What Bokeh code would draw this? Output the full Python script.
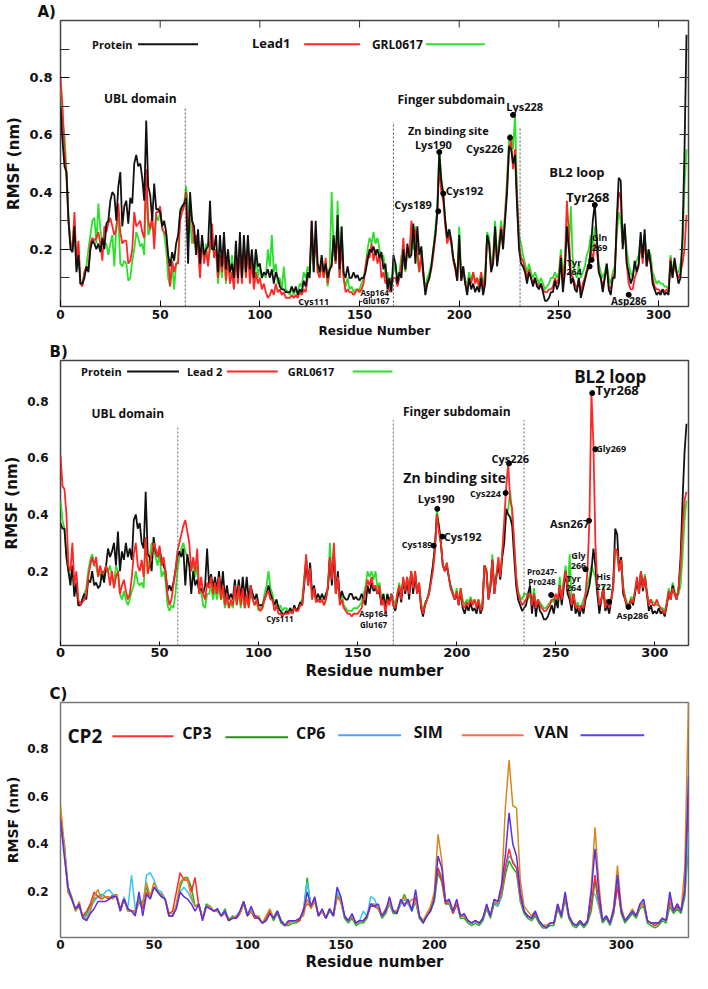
import numpy as np
from bokeh.plotting import figure
from bokeh.models import Label, FixedTicker, LinearAxis, Range1d
from bokeh.layouts import column
from bokeh.embed import file_html
from bokeh.resources import INLINE

TICK_FONT = "DejaVu Sans"
FONT = "Open Sans"

# ---------------- Panel A data (RMSF, nm; residue index = position) ----------------
a_protein = [
    0.70, 0.58, 0.49, 0.47, 0.30, 0.20, 0.19, 0.28, 0.12, 0.18,
    0.08, 0.08, 0.10, 0.14, 0.12, 0.20, 0.23, 0.22, 0.20, 0.22,
    0.19, 0.24, 0.20, 0.29, 0.30, 0.37, 0.40, 0.39, 0.30, 0.42,
    0.47, 0.28, 0.35, 0.37, 0.29, 0.38, 0.36, 0.50, 0.53, 0.49,
    0.50, 0.45, 0.37, 0.65, 0.42, 0.39, 0.30, 0.43, 0.34, 0.34,
    0.33, 0.28, 0.30, 0.26, 0.18, 0.14, 0.19, 0.16, 0.22, 0.25,
    0.33, 0.35, 0.36, 0.38, 0.15, 0.40, 0.30, 0.28, 0.18, 0.27,
    0.15, 0.25, 0.18, 0.20, 0.21, 0.37, 0.20, 0.20, 0.25, 0.12,
    0.25, 0.14, 0.26, 0.13, 0.20, 0.12, 0.15, 0.10, 0.23, 0.10,
    0.26, 0.10, 0.25, 0.12, 0.25, 0.13, 0.20, 0.10, 0.20, 0.14,
    0.15, 0.10, 0.12, 0.11, 0.13, 0.10, 0.13, 0.08, 0.12, 0.10,
    0.07, 0.06, 0.06, 0.05, 0.05, 0.05, 0.07, 0.05, 0.07, 0.04,
    0.06, 0.05, 0.09, 0.07, 0.12, 0.10, 0.30, 0.12, 0.30, 0.15,
    0.12, 0.18, 0.12, 0.15, 0.10, 0.13, 0.14, 0.25, 0.16, 0.32,
    0.13, 0.28, 0.12, 0.10, 0.14, 0.10, 0.10, 0.12, 0.10, 0.11,
    0.09, 0.10, 0.10, 0.12, 0.16, 0.20, 0.19, 0.21, 0.18, 0.20,
    0.17, 0.19, 0.13, 0.15, 0.06, 0.10, 0.05, 0.18, 0.15, 0.08,
    0.12, 0.10, 0.20, 0.13, 0.22, 0.17, 0.18, 0.29, 0.15, 0.28,
    0.18, 0.21, 0.12, 0.04, 0.08, 0.10, 0.14, 0.20, 0.25, 0.33,
    0.54, 0.44, 0.39, 0.30, 0.24, 0.27, 0.23, 0.17, 0.14, 0.09,
    0.25, 0.09, 0.14, 0.08, 0.04, 0.10, 0.06, 0.08, 0.05, 0.07,
    0.05, 0.10, 0.04, 0.08, 0.25, 0.22, 0.12, 0.15, 0.28, 0.14,
    0.20, 0.27, 0.20, 0.30, 0.40, 0.56, 0.55, 0.50, 0.53, 0.35,
    0.20, 0.15, 0.14, 0.12, 0.08, 0.12, 0.10, 0.07, 0.10, 0.07,
    0.06, 0.08, 0.05, 0.02, 0.02, 0.03, 0.05, 0.05, 0.09, 0.06,
    0.08, 0.17, 0.05, 0.12, 0.28, 0.20, 0.08, 0.10, 0.06, 0.05,
    0.10, 0.03, 0.06, 0.09, 0.12, 0.14, 0.20, 0.30, 0.36, 0.24,
    0.12, 0.10, 0.05, 0.10, 0.15, 0.06, 0.04, 0.10, 0.10, 0.30,
    0.45, 0.44, 0.20, 0.29, 0.15, 0.12, 0.08, 0.10, 0.16, 0.12,
    0.15, 0.26, 0.17, 0.27, 0.14, 0.20, 0.15, 0.08, 0.06, 0.04,
    0.05, 0.04, 0.06, 0.04, 0.05, 0.04, 0.16, 0.10, 0.17, 0.12,
    0.08, 0.10, 0.25, 0.55, 0.95,
]
a_lead1 = [
    0.80, 0.70, 0.55, 0.45, 0.30, 0.22, 0.20, 0.33, 0.15, 0.23,
    0.08, 0.07, 0.12, 0.14, 0.13, 0.22, 0.24, 0.23, 0.24, 0.26,
    0.22, 0.16, 0.28, 0.26, 0.29, 0.31, 0.28, 0.25, 0.27, 0.36,
    0.26, 0.22, 0.23, 0.23, 0.15, 0.16, 0.20, 0.33, 0.28, 0.29,
    0.30, 0.26, 0.24, 0.48, 0.30, 0.27, 0.32, 0.20, 0.33, 0.33,
    0.35, 0.27, 0.26, 0.25, 0.17, 0.07, 0.16, 0.12, 0.15, 0.15,
    0.30, 0.33, 0.35, 0.40, 0.25, 0.35, 0.30, 0.22, 0.25, 0.20,
    0.10, 0.24, 0.15, 0.20, 0.14, 0.22, 0.29, 0.17, 0.20, 0.10,
    0.18, 0.12, 0.20, 0.09, 0.17, 0.08, 0.12, 0.06, 0.18, 0.08,
    0.20, 0.08, 0.22, 0.10, 0.20, 0.08, 0.16, 0.06, 0.12, 0.08,
    0.10, 0.06, 0.08, 0.05, 0.03, 0.04, 0.06, 0.04, 0.08, 0.05,
    0.06, 0.04, 0.05, 0.03, 0.03, 0.03, 0.04, 0.03, 0.04, 0.03,
    0.05, 0.04, 0.06, 0.05, 0.10, 0.12, 0.30, 0.15, 0.24, 0.12,
    0.10, 0.15, 0.10, 0.17, 0.08, 0.13, 0.15, 0.24, 0.15, 0.27,
    0.10, 0.22, 0.10, 0.05, 0.06, 0.05, 0.05, 0.04, 0.05, 0.06,
    0.05, 0.06, 0.08, 0.14, 0.18, 0.17, 0.22, 0.16, 0.20, 0.15,
    0.18, 0.10, 0.12, 0.08, 0.10, 0.05, 0.08, 0.10, 0.10, 0.07,
    0.10, 0.15, 0.24, 0.13, 0.20, 0.18, 0.30, 0.22, 0.27, 0.20,
    0.12, 0.18, 0.10, 0.06, 0.08, 0.10, 0.13, 0.18, 0.24, 0.32,
    0.50, 0.40, 0.37, 0.28, 0.22, 0.25, 0.22, 0.16, 0.13, 0.09,
    0.22, 0.09, 0.13, 0.08, 0.06, 0.10, 0.08, 0.12, 0.08, 0.10,
    0.06, 0.12, 0.06, 0.10, 0.24, 0.22, 0.13, 0.16, 0.27, 0.15,
    0.21, 0.28, 0.22, 0.32, 0.42, 0.55, 0.58, 0.48, 0.55, 0.38,
    0.22, 0.17, 0.16, 0.13, 0.10, 0.13, 0.10, 0.08, 0.10, 0.08,
    0.07, 0.08, 0.06, 0.05, 0.05, 0.06, 0.06, 0.07, 0.10, 0.08,
    0.10, 0.18, 0.08, 0.15, 0.37, 0.25, 0.12, 0.10, 0.08, 0.06,
    0.10, 0.05, 0.08, 0.10, 0.13, 0.15, 0.20, 0.16, 0.22, 0.20,
    0.12, 0.10, 0.07, 0.10, 0.14, 0.07, 0.06, 0.10, 0.12, 0.28,
    0.40, 0.38, 0.22, 0.27, 0.15, 0.08, 0.06, 0.06, 0.10, 0.12,
    0.14, 0.23, 0.15, 0.24, 0.14, 0.18, 0.15, 0.10, 0.07, 0.06,
    0.06, 0.05, 0.06, 0.05, 0.06, 0.05, 0.17, 0.10, 0.15, 0.12,
    0.10, 0.12, 0.15, 0.20, 0.32,
]
a_grl = [
    0.77, 0.65, 0.60, 0.48, 0.32, 0.22, 0.22, 0.30, 0.14, 0.20,
    0.08, 0.08, 0.12, 0.14, 0.20, 0.25, 0.30, 0.31, 0.22, 0.36,
    0.27, 0.22, 0.22, 0.22, 0.18, 0.22, 0.25, 0.14, 0.28, 0.32,
    0.15, 0.14, 0.16, 0.15, 0.09, 0.10, 0.16, 0.20, 0.26, 0.24,
    0.21, 0.22, 0.18, 0.45, 0.25, 0.27, 0.30, 0.24, 0.32, 0.30,
    0.33, 0.28, 0.25, 0.20, 0.10, 0.07, 0.15, 0.06, 0.15, 0.16,
    0.34, 0.35, 0.36, 0.42, 0.35, 0.30, 0.22, 0.25, 0.20, 0.22,
    0.15, 0.22, 0.17, 0.22, 0.15, 0.20, 0.25, 0.18, 0.20, 0.08,
    0.17, 0.10, 0.20, 0.08, 0.20, 0.10, 0.18, 0.10, 0.15, 0.12,
    0.22, 0.10, 0.18, 0.12, 0.20, 0.12, 0.15, 0.10, 0.20, 0.10,
    0.14, 0.10, 0.12, 0.10, 0.20, 0.14, 0.25, 0.12, 0.15, 0.08,
    0.10, 0.06, 0.14, 0.06, 0.05, 0.04, 0.07, 0.04, 0.06, 0.05,
    0.08, 0.07, 0.12, 0.10, 0.14, 0.12, 0.25, 0.12, 0.25, 0.12,
    0.12, 0.17, 0.10, 0.14, 0.07, 0.13, 0.40, 0.20, 0.15, 0.37,
    0.10, 0.28, 0.10, 0.07, 0.10, 0.06, 0.07, 0.05, 0.06, 0.06,
    0.06, 0.08, 0.10, 0.14, 0.20, 0.24, 0.22, 0.26, 0.22, 0.24,
    0.20, 0.16, 0.18, 0.10, 0.12, 0.06, 0.10, 0.12, 0.15, 0.10,
    0.12, 0.18, 0.16, 0.12, 0.20, 0.17, 0.25, 0.20, 0.28, 0.16,
    0.12, 0.20, 0.12, 0.06, 0.10, 0.12, 0.15, 0.20, 0.27, 0.35,
    0.55, 0.45, 0.40, 0.30, 0.24, 0.27, 0.23, 0.17, 0.14, 0.10,
    0.28, 0.10, 0.14, 0.09, 0.08, 0.12, 0.09, 0.12, 0.09, 0.10,
    0.08, 0.12, 0.08, 0.12, 0.26, 0.24, 0.15, 0.18, 0.30, 0.17,
    0.23, 0.30, 0.23, 0.33, 0.45, 0.60, 0.60, 0.55, 0.67, 0.40,
    0.25, 0.22, 0.18, 0.15, 0.12, 0.15, 0.12, 0.10, 0.12, 0.10,
    0.08, 0.10, 0.08, 0.06, 0.07, 0.08, 0.10, 0.10, 0.12, 0.10,
    0.12, 0.20, 0.10, 0.17, 0.28, 0.20, 0.35, 0.15, 0.12, 0.10,
    0.15, 0.10, 0.12, 0.14, 0.18, 0.20, 0.25, 0.20, 0.28, 0.22,
    0.15, 0.12, 0.10, 0.12, 0.15, 0.10, 0.08, 0.12, 0.14, 0.25,
    0.33, 0.30, 0.22, 0.28, 0.20, 0.15, 0.12, 0.10, 0.14, 0.16,
    0.18, 0.24, 0.17, 0.25, 0.17, 0.20, 0.18, 0.12, 0.10, 0.08,
    0.09, 0.08, 0.08, 0.07, 0.07, 0.06, 0.18, 0.12, 0.16, 0.12,
    0.12, 0.15, 0.20, 0.42, 0.55,
]

# ---------------- Panel B data ----------------
b_protein = [
    0.37, 0.35, 0.35, 0.25, 0.20, 0.15, 0.22, 0.11, 0.16, 0.08,
    0.08, 0.10, 0.12, 0.10, 0.17, 0.16, 0.20, 0.15, 0.16, 0.14,
    0.15, 0.20, 0.16, 0.22, 0.28, 0.25, 0.27, 0.30, 0.22, 0.34,
    0.20, 0.27, 0.24, 0.30, 0.25, 0.28, 0.24, 0.38, 0.40, 0.35,
    0.37, 0.30, 0.28, 0.48, 0.26, 0.25, 0.20, 0.32, 0.27, 0.25,
    0.28, 0.24, 0.22, 0.20, 0.13, 0.15, 0.13, 0.16, 0.20, 0.25,
    0.27, 0.25, 0.28, 0.15, 0.26, 0.22, 0.12, 0.20, 0.15, 0.17,
    0.13, 0.14, 0.12, 0.15, 0.28, 0.15, 0.19, 0.14, 0.18, 0.13,
    0.20, 0.12, 0.20, 0.10, 0.15, 0.10, 0.12, 0.10, 0.17, 0.10,
    0.17, 0.10, 0.18, 0.10, 0.18, 0.10, 0.15, 0.12, 0.10, 0.12,
    0.08, 0.08, 0.08, 0.10, 0.12, 0.15, 0.12, 0.10, 0.08, 0.10,
    0.07, 0.06, 0.05, 0.05, 0.06, 0.05, 0.07, 0.05, 0.08, 0.06,
    0.07, 0.09, 0.08, 0.15, 0.24, 0.15, 0.23, 0.12, 0.15, 0.10,
    0.12, 0.10, 0.12, 0.10, 0.12, 0.14, 0.25, 0.15, 0.27, 0.12,
    0.20, 0.10, 0.13, 0.11, 0.10, 0.10, 0.12, 0.12, 0.10, 0.11,
    0.10, 0.10, 0.12, 0.10, 0.08, 0.15, 0.12, 0.16, 0.13, 0.14,
    0.12, 0.13, 0.08, 0.12, 0.07, 0.12, 0.09, 0.12, 0.08, 0.06,
    0.10, 0.14, 0.09, 0.17, 0.12, 0.17, 0.10, 0.20, 0.12, 0.19,
    0.12, 0.15, 0.07, 0.04, 0.08, 0.10, 0.12, 0.17, 0.22, 0.29,
    0.40, 0.36, 0.30, 0.22, 0.20, 0.22, 0.18, 0.14, 0.12, 0.10,
    0.12, 0.08, 0.13, 0.07, 0.05, 0.08, 0.06, 0.09, 0.06, 0.07,
    0.05, 0.09, 0.05, 0.07, 0.22, 0.20, 0.10, 0.14, 0.24, 0.12,
    0.18, 0.22, 0.17, 0.25, 0.30, 0.42, 0.40, 0.39, 0.36, 0.25,
    0.15, 0.10, 0.08, 0.06, 0.07, 0.08, 0.12, 0.15, 0.05, 0.12,
    0.04, 0.10, 0.06, 0.05, 0.03, 0.03, 0.04, 0.06, 0.08, 0.05,
    0.10, 0.07, 0.15, 0.08, 0.14, 0.20, 0.12, 0.10, 0.06, 0.12,
    0.05, 0.07, 0.04, 0.08, 0.05, 0.10, 0.12, 0.15, 0.20, 0.28,
    0.22, 0.12, 0.05, 0.10, 0.14, 0.06, 0.08, 0.05, 0.10, 0.15,
    0.35, 0.33, 0.20, 0.25, 0.12, 0.10, 0.07, 0.08, 0.10, 0.08,
    0.12, 0.17, 0.12, 0.20, 0.13, 0.18, 0.12, 0.06, 0.08, 0.05,
    0.06, 0.05, 0.07, 0.05, 0.06, 0.04, 0.08, 0.12, 0.10, 0.15,
    0.12, 0.10, 0.14, 0.25, 0.45, 0.62, 0.72,
]
b_lead2 = [
    0.61, 0.50, 0.49, 0.40, 0.22, 0.20, 0.30, 0.15, 0.20, 0.10,
    0.08, 0.09, 0.10, 0.12, 0.18, 0.22, 0.25, 0.22, 0.25, 0.18,
    0.22, 0.19, 0.20, 0.22, 0.20, 0.15, 0.20, 0.14, 0.18, 0.20,
    0.12, 0.15, 0.17, 0.13, 0.10, 0.12, 0.18, 0.26, 0.30, 0.22,
    0.20, 0.24, 0.18, 0.32, 0.19, 0.22, 0.26, 0.30, 0.28, 0.25,
    0.29, 0.22, 0.25, 0.20, 0.12, 0.08, 0.10, 0.15, 0.20, 0.27,
    0.30, 0.33, 0.36, 0.38, 0.34, 0.30, 0.20, 0.25, 0.20, 0.28,
    0.12, 0.18, 0.12, 0.10, 0.16, 0.14, 0.18, 0.12, 0.16, 0.12,
    0.18, 0.10, 0.15, 0.08, 0.12, 0.07, 0.10, 0.08, 0.15, 0.08,
    0.15, 0.08, 0.14, 0.07, 0.12, 0.07, 0.15, 0.10, 0.08, 0.10,
    0.07, 0.06, 0.07, 0.10, 0.12, 0.13, 0.10, 0.10, 0.06, 0.08,
    0.05, 0.05, 0.04, 0.05, 0.05, 0.05, 0.06, 0.05, 0.07, 0.06,
    0.06, 0.08, 0.08, 0.16, 0.26, 0.15, 0.21, 0.10, 0.14, 0.09,
    0.10, 0.09, 0.10, 0.08, 0.10, 0.15, 0.25, 0.17, 0.30, 0.12,
    0.18, 0.08, 0.10, 0.07, 0.06, 0.05, 0.05, 0.04, 0.05, 0.05,
    0.05, 0.06, 0.07, 0.10, 0.13, 0.17, 0.15, 0.18, 0.14, 0.15,
    0.12, 0.15, 0.08, 0.10, 0.05, 0.10, 0.08, 0.12, 0.08, 0.07,
    0.12, 0.15, 0.10, 0.18, 0.13, 0.18, 0.12, 0.20, 0.14, 0.20,
    0.12, 0.16, 0.08, 0.05, 0.08, 0.10, 0.12, 0.16, 0.20, 0.27,
    0.40, 0.34, 0.30, 0.22, 0.20, 0.23, 0.18, 0.14, 0.12, 0.10,
    0.13, 0.08, 0.14, 0.08, 0.07, 0.09, 0.08, 0.10, 0.08, 0.10,
    0.07, 0.10, 0.06, 0.08, 0.22, 0.20, 0.10, 0.15, 0.24, 0.12,
    0.18, 0.25, 0.18, 0.27, 0.38, 0.50, 0.58, 0.45, 0.42, 0.30,
    0.18, 0.12, 0.10, 0.08, 0.09, 0.10, 0.12, 0.12, 0.08, 0.12,
    0.07, 0.10, 0.08, 0.07, 0.06, 0.06, 0.07, 0.08, 0.10, 0.10,
    0.12, 0.10, 0.15, 0.10, 0.16, 0.20, 0.14, 0.12, 0.08, 0.12,
    0.07, 0.08, 0.06, 0.08, 0.07, 0.12, 0.20, 0.38, 0.83, 0.65,
    0.30, 0.15, 0.08, 0.10, 0.14, 0.07, 0.10, 0.07, 0.10, 0.14,
    0.28, 0.27, 0.20, 0.24, 0.14, 0.10, 0.08, 0.07, 0.10, 0.09,
    0.13, 0.18, 0.12, 0.20, 0.14, 0.18, 0.12, 0.08, 0.10, 0.08,
    0.08, 0.10, 0.08, 0.07, 0.06, 0.05, 0.08, 0.13, 0.10, 0.14,
    0.12, 0.10, 0.14, 0.22, 0.35, 0.45, 0.48,
]
b_grl = [
    0.45, 0.38, 0.35, 0.25, 0.20, 0.17, 0.22, 0.12, 0.15, 0.08,
    0.08, 0.10, 0.12, 0.14, 0.20, 0.24, 0.26, 0.22, 0.22, 0.18,
    0.20, 0.17, 0.18, 0.20, 0.20, 0.22, 0.18, 0.15, 0.22, 0.20,
    0.12, 0.10, 0.13, 0.10, 0.08, 0.10, 0.13, 0.15, 0.20, 0.16,
    0.15, 0.16, 0.14, 0.32, 0.20, 0.25, 0.30, 0.28, 0.25, 0.22,
    0.26, 0.18, 0.20, 0.17, 0.08, 0.06, 0.08, 0.07, 0.12, 0.20,
    0.25, 0.28, 0.30, 0.27, 0.25, 0.22, 0.20, 0.23, 0.18, 0.22,
    0.12, 0.13, 0.08, 0.07, 0.12, 0.12, 0.15, 0.10, 0.14, 0.10,
    0.15, 0.10, 0.12, 0.07, 0.10, 0.07, 0.09, 0.07, 0.13, 0.08,
    0.13, 0.07, 0.12, 0.07, 0.10, 0.08, 0.12, 0.10, 0.08, 0.09,
    0.06, 0.07, 0.08, 0.12, 0.15, 0.20, 0.14, 0.12, 0.08, 0.10,
    0.07, 0.08, 0.06, 0.07, 0.07, 0.06, 0.07, 0.05, 0.07, 0.06,
    0.07, 0.09, 0.10, 0.18, 0.24, 0.16, 0.22, 0.10, 0.14, 0.09,
    0.10, 0.10, 0.10, 0.08, 0.10, 0.14, 0.30, 0.16, 0.28, 0.12,
    0.18, 0.10, 0.12, 0.08, 0.07, 0.06, 0.06, 0.06, 0.07, 0.07,
    0.07, 0.08, 0.09, 0.12, 0.15, 0.20, 0.18, 0.20, 0.17, 0.20,
    0.14, 0.16, 0.10, 0.12, 0.07, 0.12, 0.09, 0.12, 0.10, 0.08,
    0.12, 0.16, 0.11, 0.17, 0.13, 0.18, 0.12, 0.20, 0.14, 0.20,
    0.13, 0.16, 0.09, 0.06, 0.09, 0.10, 0.13, 0.17, 0.22, 0.28,
    0.42, 0.36, 0.30, 0.22, 0.21, 0.23, 0.18, 0.15, 0.13, 0.10,
    0.14, 0.09, 0.14, 0.10, 0.08, 0.10, 0.09, 0.11, 0.09, 0.10,
    0.08, 0.10, 0.07, 0.09, 0.22, 0.21, 0.11, 0.15, 0.26, 0.13,
    0.19, 0.24, 0.18, 0.27, 0.33, 0.40, 0.42, 0.48, 0.40, 0.30,
    0.18, 0.13, 0.11, 0.10, 0.12, 0.12, 0.10, 0.12, 0.08, 0.14,
    0.08, 0.10, 0.09, 0.08, 0.07, 0.07, 0.08, 0.09, 0.10, 0.09,
    0.11, 0.08, 0.18, 0.10, 0.17, 0.22, 0.12, 0.26, 0.10, 0.12,
    0.08, 0.09, 0.07, 0.08, 0.10, 0.12, 0.15, 0.18, 0.22, 0.20,
    0.18, 0.12, 0.09, 0.10, 0.15, 0.08, 0.10, 0.07, 0.10, 0.16,
    0.28, 0.26, 0.20, 0.25, 0.15, 0.11, 0.09, 0.08, 0.11, 0.10,
    0.13, 0.17, 0.13, 0.20, 0.14, 0.19, 0.13, 0.09, 0.10, 0.09,
    0.09, 0.08, 0.08, 0.07, 0.07, 0.06, 0.09, 0.14, 0.11, 0.16,
    0.13, 0.11, 0.12, 0.15, 0.25, 0.38, 0.45,
]

# ---------------- Panel C data (every 2nd residue, 0..336) ----------------
c_residue_step = 2
c_cp2 = [
    0.52, 0.38, 0.20, 0.17, 0.13, 0.14, 0.10, 0.12, 0.15, 0.20,
    0.18, 0.17, 0.18, 0.17, 0.18, 0.19, 0.13, 0.17, 0.13, 0.12,
    0.12, 0.16, 0.13, 0.20, 0.18, 0.22, 0.20, 0.19, 0.17, 0.11,
    0.12, 0.20, 0.28, 0.25, 0.25, 0.20, 0.26, 0.14, 0.09, 0.14,
    0.13, 0.12, 0.12, 0.10, 0.11, 0.08, 0.09, 0.09, 0.11, 0.16,
    0.10, 0.12, 0.09, 0.09, 0.07, 0.09, 0.12, 0.09, 0.12, 0.08,
    0.06, 0.07, 0.08, 0.08, 0.08, 0.13, 0.15, 0.14, 0.17, 0.10,
    0.12, 0.09, 0.13, 0.10, 0.18, 0.16, 0.10, 0.08, 0.10, 0.07,
    0.08, 0.08, 0.10, 0.14, 0.14, 0.13, 0.10, 0.13, 0.16, 0.12,
    0.12, 0.16, 0.15, 0.16, 0.13, 0.18, 0.10, 0.08, 0.10, 0.13,
    0.18, 0.30, 0.25, 0.15, 0.16, 0.11, 0.15, 0.10, 0.10, 0.08,
    0.07, 0.08, 0.07, 0.09, 0.14, 0.10, 0.16, 0.15, 0.20, 0.30,
    0.38, 0.32, 0.30, 0.18, 0.12, 0.10, 0.09, 0.11, 0.08, 0.06,
    0.06, 0.07, 0.07, 0.14, 0.10, 0.18, 0.10, 0.07, 0.06, 0.08,
    0.06, 0.08, 0.15, 0.27, 0.16, 0.08, 0.10, 0.07, 0.12, 0.22,
    0.12, 0.08, 0.10, 0.12, 0.10, 0.14, 0.15, 0.08, 0.07, 0.06,
    0.07, 0.09, 0.08, 0.16, 0.12, 0.14, 0.12, 0.22, 0.60,
]
c_cp3 = [
    0.50, 0.40, 0.22, 0.18, 0.12, 0.14, 0.09, 0.11, 0.14, 0.17,
    0.18, 0.19, 0.18, 0.17, 0.19, 0.18, 0.12, 0.17, 0.12, 0.12,
    0.11, 0.16, 0.16, 0.22, 0.17, 0.22, 0.20, 0.18, 0.17, 0.10,
    0.10, 0.14, 0.22, 0.26, 0.26, 0.22, 0.14, 0.15, 0.09, 0.15,
    0.14, 0.12, 0.12, 0.10, 0.13, 0.08, 0.10, 0.09, 0.11, 0.15,
    0.10, 0.12, 0.09, 0.09, 0.07, 0.08, 0.12, 0.08, 0.11, 0.07,
    0.06, 0.06, 0.07, 0.07, 0.08, 0.12, 0.26, 0.13, 0.17, 0.10,
    0.12, 0.09, 0.12, 0.10, 0.20, 0.16, 0.09, 0.07, 0.09, 0.06,
    0.07, 0.07, 0.09, 0.15, 0.14, 0.13, 0.09, 0.11, 0.15, 0.11,
    0.11, 0.15, 0.19, 0.15, 0.12, 0.16, 0.09, 0.07, 0.10, 0.12,
    0.16, 0.28, 0.24, 0.15, 0.15, 0.11, 0.15, 0.09, 0.09, 0.07,
    0.06, 0.07, 0.06, 0.08, 0.13, 0.09, 0.15, 0.14, 0.18, 0.27,
    0.33, 0.30, 0.28, 0.16, 0.11, 0.09, 0.08, 0.10, 0.07, 0.05,
    0.05, 0.06, 0.06, 0.13, 0.09, 0.17, 0.09, 0.06, 0.05, 0.07,
    0.05, 0.07, 0.12, 0.25, 0.14, 0.07, 0.09, 0.06, 0.11, 0.24,
    0.11, 0.07, 0.09, 0.11, 0.09, 0.13, 0.14, 0.07, 0.06, 0.05,
    0.06, 0.08, 0.07, 0.14, 0.11, 0.13, 0.11, 0.18, 0.40,
]
c_cp6 = [
    0.45, 0.41, 0.22, 0.17, 0.13, 0.14, 0.09, 0.10, 0.13, 0.16,
    0.18, 0.18, 0.20, 0.21, 0.19, 0.18, 0.13, 0.18, 0.13, 0.27,
    0.13, 0.18, 0.13, 0.27, 0.28, 0.25, 0.21, 0.20, 0.17, 0.11,
    0.11, 0.14, 0.20, 0.22, 0.20, 0.17, 0.14, 0.15, 0.09, 0.14,
    0.14, 0.12, 0.13, 0.10, 0.12, 0.09, 0.09, 0.10, 0.12, 0.16,
    0.11, 0.13, 0.10, 0.09, 0.07, 0.08, 0.11, 0.09, 0.12, 0.08,
    0.06, 0.07, 0.08, 0.08, 0.09, 0.12, 0.24, 0.14, 0.17, 0.10,
    0.12, 0.09, 0.13, 0.10, 0.20, 0.17, 0.10, 0.08, 0.10, 0.07,
    0.08, 0.12, 0.10, 0.18, 0.17, 0.13, 0.10, 0.12, 0.15, 0.12,
    0.12, 0.15, 0.17, 0.15, 0.12, 0.17, 0.10, 0.08, 0.10, 0.13,
    0.17, 0.30, 0.26, 0.15, 0.16, 0.11, 0.15, 0.10, 0.10, 0.08,
    0.07, 0.08, 0.07, 0.09, 0.14, 0.10, 0.16, 0.14, 0.19, 0.30,
    0.35, 0.33, 0.30, 0.17, 0.12, 0.10, 0.09, 0.11, 0.08, 0.06,
    0.06, 0.07, 0.07, 0.14, 0.10, 0.18, 0.10, 0.07, 0.06, 0.08,
    0.06, 0.08, 0.20, 0.19, 0.14, 0.08, 0.10, 0.07, 0.12, 0.24,
    0.12, 0.08, 0.10, 0.12, 0.10, 0.14, 0.16, 0.08, 0.07, 0.07,
    0.07, 0.09, 0.08, 0.16, 0.12, 0.14, 0.12, 0.20, 0.45,
]
c_sim = [
    0.56, 0.40, 0.20, 0.17, 0.12, 0.16, 0.09, 0.09, 0.12, 0.18,
    0.21, 0.17, 0.18, 0.18, 0.17, 0.19, 0.12, 0.17, 0.12, 0.12,
    0.11, 0.16, 0.15, 0.24, 0.18, 0.24, 0.20, 0.19, 0.17, 0.10,
    0.10, 0.15, 0.24, 0.26, 0.25, 0.18, 0.14, 0.15, 0.09, 0.14,
    0.14, 0.12, 0.12, 0.10, 0.11, 0.09, 0.09, 0.10, 0.11, 0.15,
    0.10, 0.12, 0.10, 0.10, 0.07, 0.10, 0.13, 0.09, 0.12, 0.08,
    0.06, 0.07, 0.08, 0.08, 0.09, 0.10, 0.17, 0.13, 0.16, 0.10,
    0.12, 0.09, 0.13, 0.10, 0.18, 0.16, 0.10, 0.08, 0.10, 0.07,
    0.08, 0.08, 0.10, 0.15, 0.15, 0.13, 0.10, 0.12, 0.16, 0.12,
    0.12, 0.16, 0.18, 0.15, 0.17, 0.16, 0.10, 0.08, 0.11, 0.14,
    0.20, 0.44, 0.33, 0.16, 0.16, 0.12, 0.16, 0.10, 0.10, 0.08,
    0.07, 0.08, 0.07, 0.09, 0.14, 0.10, 0.16, 0.15, 0.22, 0.55,
    0.75, 0.56, 0.55, 0.25, 0.14, 0.12, 0.10, 0.12, 0.08, 0.06,
    0.06, 0.07, 0.07, 0.15, 0.10, 0.19, 0.10, 0.07, 0.06, 0.08,
    0.06, 0.08, 0.22, 0.47, 0.24, 0.08, 0.10, 0.07, 0.14, 0.31,
    0.14, 0.08, 0.10, 0.13, 0.10, 0.14, 0.15, 0.08, 0.07, 0.07,
    0.07, 0.09, 0.08, 0.18, 0.12, 0.15, 0.12, 0.30, 0.99,
]
c_van = [
    0.50, 0.35, 0.22, 0.17, 0.13, 0.15, 0.09, 0.08, 0.11, 0.13,
    0.16, 0.16, 0.16, 0.17, 0.18, 0.18, 0.12, 0.17, 0.13, 0.12,
    0.10, 0.20, 0.10, 0.19, 0.17, 0.22, 0.20, 0.18, 0.17, 0.10,
    0.10, 0.13, 0.20, 0.18, 0.17, 0.15, 0.12, 0.15, 0.08, 0.14,
    0.13, 0.12, 0.13, 0.10, 0.12, 0.08, 0.09, 0.09, 0.12, 0.16,
    0.10, 0.14, 0.10, 0.09, 0.07, 0.08, 0.11, 0.09, 0.12, 0.08,
    0.06, 0.08, 0.08, 0.08, 0.09, 0.12, 0.20, 0.14, 0.18, 0.10,
    0.13, 0.09, 0.13, 0.10, 0.22, 0.18, 0.10, 0.08, 0.11, 0.07,
    0.08, 0.08, 0.10, 0.15, 0.14, 0.15, 0.10, 0.12, 0.18, 0.12,
    0.11, 0.17, 0.14, 0.17, 0.12, 0.21, 0.10, 0.07, 0.10, 0.12,
    0.17, 0.35, 0.30, 0.16, 0.17, 0.12, 0.17, 0.10, 0.11, 0.08,
    0.07, 0.08, 0.07, 0.09, 0.15, 0.10, 0.17, 0.16, 0.23, 0.35,
    0.53, 0.40, 0.35, 0.20, 0.12, 0.10, 0.09, 0.12, 0.08, 0.06,
    0.05, 0.07, 0.07, 0.15, 0.10, 0.20, 0.10, 0.07, 0.06, 0.08,
    0.06, 0.08, 0.20, 0.38, 0.20, 0.08, 0.10, 0.07, 0.13, 0.27,
    0.12, 0.08, 0.10, 0.12, 0.10, 0.15, 0.17, 0.08, 0.07, 0.07,
    0.07, 0.09, 0.08, 0.20, 0.12, 0.15, 0.12, 0.20, 0.68,
]

# ---------------- annotation texts ----------------
a_notes = [  # text, residue, rmsf, size
    ("UBL domain", 40, 0.727, "12px"), ("Finger subdomain", 196, 0.724, "12px"),
    ("Zn binding site", 194.5, 0.614, "11px"), ("Lys190", 187, 0.566, "11px"),
    ("Cys192", 202.7, 0.407, "11px"), ("Cys189", 176.8, 0.355, "11px"),
    ("Cys226", 212.8, 0.552, "11px"), ("Lys228", 232.8, 0.70, "11px"),
    ("BL2 loop", 259, 0.472, "13px"), ("Tyr268", 264.5, 0.383, "13px"),
    ("Gln", 270.4, 0.24, "9px"), ("269", 270.4, 0.203, "9px"),
    ("Tyr", 257.6, 0.155, "9px"), ("264", 257.6, 0.12, "9px"),
    ("Asp286", 285, 0.02, "10px"), ("Cys111", 127, 0.017, "9px"),
    ("Asp164", 157.6, 0.048, "8px"), ("-Glu167", 157.6, 0.02, "8px"),
]
a_dots_res = [189.5, 190, 192, 225.5, 227, 268, 266.4, 265.4, 285]
a_dots_val = [0.333, 0.54, 0.395, 0.59, 0.67, 0.355, 0.163, 0.14, 0.041]
a_domains = [62.6, 167, 230.5]
a_domain_top = [0.70, 0.645, 0.628]

b_notes = [
    ("UBL domain", 34, 0.755, "12px"), ("Finger subdomain", 200, 0.762, "12px"),
    ("Zn binding site", 199, 0.531, "14px"), ("Lys190", 189.6, 0.455, "11px"),
    ("Cys192", 203, 0.322, "11px"), ("Cys189", 180, 0.294, "9px"),
    ("Cys226", 227, 0.597, "11px"), ("Cys224", 214.5, 0.475, "9px"),
    ("BL2 loop", 277.5, 0.887, "17px"), ("Tyr268", 281, 0.839, "13px"),
    ("Gly269", 278, 0.632, "9px"), ("Asn267", 257, 0.368, "11px"),
    ("Gly", 261.5, 0.256, "9px"), ("266", 261.5, 0.22, "9px"),
    ("Tyr", 259, 0.175, "9px"), ("264", 259, 0.14, "9px"),
    ("His", 274, 0.18, "9px"), ("272", 274, 0.145, "9px"),
    ("Pro247-", 243, 0.20, "8px"), ("Pro248", 243, 0.165, "8px"),
    ("Asp286", 288.7, 0.043, "9px"), ("Cys111", 110.7, 0.033, "8px"),
    ("Asp164", 158, 0.05, "8px"), ("Glu167", 158, 0.012, "8px"),
]
b_dots_res = [190.2, 192.8, 188.4, 226.4, 224.7, 268.4, 270, 266.8, 265, 247.7, 277, 286.7]
b_dots_val = [0.42, 0.322, 0.29, 0.58, 0.476, 0.828, 0.63, 0.378, 0.207, 0.116, 0.092, 0.074]
b_domains = [59.2, 168, 234]
b_domain_top = [0.706, 0.733, 0.733]

a_top_ticks = [50, 100, 150, 200, 250, 300]

RED, GREEN, BLACK = "#ff2626", "#2be02b", "#111111"


def make_fig(height, xr, yr, bl, title, title_offset):
    p = figure(width=692, height=height, x_range=Range1d(*xr), y_range=Range1d(*yr),
               output_backend="svg", toolbar_location=None, title=title,
               min_border_left=bl, min_border_right=4, min_border_top=10, min_border_bottom=20)
    p.title.text_font = TICK_FONT
    p.title.text_font_style = "bold"
    p.title.text_font_size = "15px"
    p.title.text_color = "#111111"
    p.title.standoff = 0
    p.title.align = "left"
    p.title.offset = title_offset
    p.grid.visible = False
    p.outline_line_color = "#444444"
    p.outline_line_width = 1.5
    for ax in p.axis:
        ax.axis_line_color = None
        ax.major_label_text_font = TICK_FONT
        ax.major_label_text_font_style = "bold"
        ax.axis_label_text_font = TICK_FONT
        ax.axis_label_text_font_style = "bold"
        ax.axis_label_text_color = "#111111"
        ax.major_label_text_color = "#111111"
        ax.minor_tick_line_color = None
        ax.major_tick_out = 0
    return p


def add_label(p, text, x, y, size, align="center", color="#111111"):
    p.add_layout(Label(x=x, y=y, text=text, text_font=FONT, text_font_style="bold",
                       text_font_size=size, text_align=align, text_baseline="middle",
                       text_color=color))


# ================= Panel A =================
pa = make_fig(340, (0, 315), (0, 1.0), 55, "A)", -23)
pa.xaxis.ticker = FixedTicker(ticks=[0, 50, 100, 150, 200, 250, 300])
pa.xaxis.major_tick_in = 6
pa.xaxis.major_label_text_font_size = "12px"
pa.xaxis.major_label_standoff = 3
pa.xaxis.axis_label = "Residue Number"
pa.xaxis.axis_label_text_font_size = "12px"
pa.xaxis.axis_label_standoff = 2
pa.yaxis.ticker = FixedTicker(ticks=[0.2, 0.4, 0.6, 0.8], minor_ticks=[0.1, 0.3, 0.5, 0.7, 0.9])
pa.yaxis.major_tick_in = 9
pa.yaxis.minor_tick_line_color = "#333333"
pa.yaxis.minor_tick_in = 9
pa.yaxis.minor_tick_out = 0
pa.yaxis.major_label_text_font_size = "13px"
pa.yaxis.major_label_standoff = 8
pa.yaxis.axis_label = "RMSF (nm)"
pa.yaxis.axis_label_text_font_size = "15px"
pa.yaxis.axis_label_standoff = 3
right_a = LinearAxis(ticker=FixedTicker(ticks=[0.1, 0.2, 0.3, 0.4, 0.5, 0.6, 0.7, 0.8, 0.9]),
                     axis_line_color=None, major_tick_in=9, major_tick_out=0, major_label_standoff=0,
                     major_label_text_font_size="1px", major_label_text_color=None,
                     minor_tick_line_color=None, major_tick_line_color="#333333")
pa.add_layout(right_a, "right")
# inward tick marks on the top edge
pa.segment(x0=a_top_ticks, y0=[1.0] * 6, x1=a_top_ticks, y1=[0.975] * 6,
           line_color="#333333", line_width=1)

res_a = np.arange(len(a_protein))
pa.line(res_a, a_grl, line_color=GREEN, line_width=1.8)
pa.line(res_a, a_lead1, line_color=RED, line_width=1.8)
pa.line(res_a, a_protein, line_color=BLACK, line_width=1.8)
pa.segment(x0=a_domains, y0=[0] * 3, x1=a_domains, y1=a_domain_top,
           line_color="#555555", line_width=1, line_dash="2 2")
pa.scatter(a_dots_res, a_dots_val, size=5, color="black")
for t, x, y, s in a_notes:
    add_label(pa, t, x, y, s)
# legend A
add_label(pa, "Protein", 15.8, 0.917, "11px", align="left")
add_label(pa, "Lead1", 96, 0.92, "13px", align="left")
add_label(pa, "GRL0617", 156.2, 0.917, "12px", align="left")
pa.segment(x0=[38.9, 122.2, 183.3], y0=[0.917] * 3, x1=[69, 150.2, 212.8], y1=[0.917] * 3,
           line_color=[BLACK, RED, GREEN], line_width=2)

# ================= Panel B =================
pb = make_fig(342, (0, 317), (-0.062, 0.943), 58, "B)", -11)
pb.xaxis.ticker = FixedTicker(ticks=[0, 50, 100, 150, 200, 250, 300])
pb.xaxis.major_tick_in = 4
pb.xaxis.major_label_text_font_size = "13px"
pb.xaxis.major_label_standoff = 2
pb.xaxis.axis_label = "Residue number"
pb.xaxis.axis_label_text_font_size = "15px"
pb.xaxis.axis_label_standoff = 2
pb.yaxis.ticker = FixedTicker(ticks=[0.2, 0.4, 0.6, 0.8])
pb.yaxis.major_tick_in = 0
pb.yaxis.major_label_text_font_size = "12px"
pb.yaxis.major_label_standoff = 12
pb.yaxis.axis_label = "RMSF (nm)"
pb.yaxis.axis_label_text_font_size = "15px"
pb.yaxis.axis_label_standoff = 3

res_b = np.arange(len(b_protein))
pb.line(res_b, b_grl, line_color=GREEN, line_width=1.8)
pb.line(res_b, b_protein, line_color=BLACK, line_width=1.8)
pb.line(res_b, b_lead2, line_color=RED, line_width=1.8)
pb.segment(x0=b_domains, y0=[-0.062] * 3, x1=b_domains, y1=b_domain_top,
           line_color="#666666", line_width=1, line_dash="2 2")
pb.scatter(b_dots_res, b_dots_val, size=5, color="black")
for t, x, y, s in b_notes:
    add_label(pb, t, x, y, s)
add_label(pb, "Protein", 10.4, 0.904, "11px", align="left")
add_label(pb, "Lead 2", 63.8, 0.904, "11px", align="left")
add_label(pb, "GRL0617", 114.7, 0.904, "11px", align="left")
pb.segment(x0=[33.6, 84, 147.5], y0=[0.904] * 3, x1=[59.8, 109.7, 167.6], y1=[0.904] * 3,
           line_color=[BLACK, RED, GREEN], line_width=2)

# ================= Panel C =================
pc = make_fig(291, (0, 336), (0.01, 0.99), 57, "C)", -11)
pc.outline_line_color = "#777777"
pc.xaxis.ticker = FixedTicker(ticks=[0, 50, 100, 150, 200, 250, 300])
pc.xaxis.major_tick_in = 0
pc.xaxis.major_label_text_font_size = "12px"
pc.xaxis.major_label_standoff = 2
pc.xaxis.axis_label = "Residue number"
pc.xaxis.axis_label_text_font_size = "15px"
pc.xaxis.axis_label_standoff = 1
pc.yaxis.ticker = FixedTicker(ticks=[0.2, 0.4, 0.6, 0.8])
pc.yaxis.major_tick_in = 0
pc.yaxis.major_label_text_font_size = "12px"
pc.yaxis.major_label_standoff = 12
pc.yaxis.axis_label = "RMSF (nm)"
pc.yaxis.axis_label_text_font_size = "14px"
pc.yaxis.axis_label_standoff = 3

res_c = np.arange(0, 2 * len(c_van) - 1, c_residue_step)
C_RED, C_GREEN, C_CYAN, C_ORANGE, C_VIOLET = "#ff2a2a", "#22b022", "#38c8f2", "#d8861e", "#5a2ee8"
pc.line(res_c, c_cp3, line_color=C_GREEN, line_width=1.5)
pc.line(res_c, c_cp6, line_color=C_CYAN, line_width=1.5)
pc.line(res_c, c_cp2, line_color=C_RED, line_width=1.5)
pc.line(res_c, c_sim, line_color=C_ORANGE, line_width=1.5)
pc.line(res_c, c_van, line_color=C_VIOLET, line_width=1.5)
add_label(pc, "CP2", 3.7, 0.849, "19px", align="left")
add_label(pc, "CP3", 65.1, 0.864, "16px", align="left")
add_label(pc, "CP6", 126, 0.864, "16px", align="left")
add_label(pc, "SIM", 189, 0.868, "16px", align="left")
add_label(pc, "VAN", 253.5, 0.868, "16px", align="left")
pc.segment(x0=[27.8, 88.2, 148.6, 214.7, 278.2], y0=[0.849, 0.845, 0.853, 0.853, 0.853],
           x1=[60.4, 121.8, 182.2, 247.8, 312.3], y1=[0.849, 0.845, 0.853, 0.853, 0.853],
           line_color=["#ff3030", "#2e8b22", "#4f9fff", "#ff6a4a", "#5f3cff"], line_width=2)

layout = column(pa, pb, pc, spacing=0)
open("out.html", "w").write(file_html(layout, INLINE))
